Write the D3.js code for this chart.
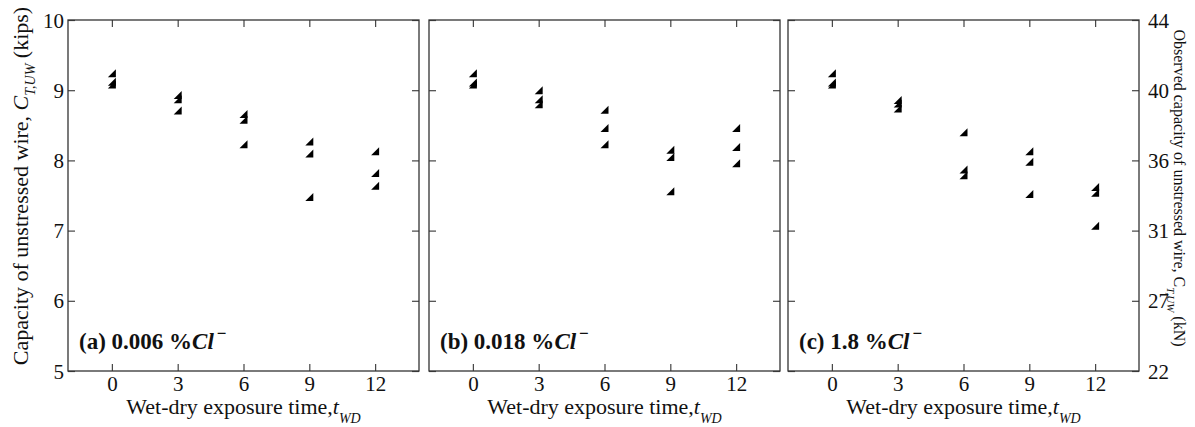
<!DOCTYPE html>
<html><head><meta charset="utf-8">
<script src="https://cdn.jsdelivr.net/npm/d3@7"></script>
</head><body style="margin:0;background:#fff">
<script>
const timeTicks = [0, 3, 6, 9, 12];
const kipsTicks = [5, 6, 7, 8, 9, 10];
const kNLabels = ["22", "27", "31", "36", "40", "44"];
const panelLabels = ["(a) 0.006 %", "(b) 0.018 %", "(c) 1.8 %"];
// capacity (kips) per wet-dry time, each row = samples at timeTicks[i]
const capA = [[9.24, 9.12, 9.08], [8.93, 8.87, 8.71], [8.66, 8.58, 8.23], [8.27, 8.10, 7.48], [8.13, 7.82, 7.64]];
const capB = [[9.24, 9.11, 9.08], [9.00, 8.87, 8.80], [8.72, 8.46, 8.23], [8.15, 8.05, 7.56], [8.46, 8.19, 7.96]];
const capC = [[9.24, 9.11, 9.08], [8.86, 8.81, 8.74], [8.40, 7.87, 7.79], [8.13, 7.98, 7.52], [7.62, 7.54, 7.07]];
const panelData = [capA, capB, capC];

(function () {
const FONT = '"Liberation Serif"';
const W = 1195, H = 427;
const svg = d3.select("body").append("svg").attr("width", W).attr("height", H)
  .style("display", "block").style("font-family", FONT);
const panelLefts = [68, 429, 788];
const panelW = 351;
const yTop = 20, yBot = 371;
const y = d3.scaleLinear().domain([5, 10]).range([yBot, yTop]);
const FS = 21;
const ink = "#111";

function txt(sel) { return sel.style("font-family", FONT).attr("fill", ink); }

panelData.forEach((data, pi) => {
  const x = d3.scaleLinear().domain([-2, 14]).range([panelLefts[pi], panelLefts[pi] + panelW]);
  const g = svg.append("g");
  const tk = 7;
  const axB = d3.axisBottom(x).tickValues(timeTicks).tickSize(-tk).tickFormat(d => d);
  const axT = d3.axisTop(x).tickValues(timeTicks).tickSize(-tk).tickFormat("");
  const axL = d3.axisLeft(y).tickValues(kipsTicks).tickSize(-tk).tickFormat(pi === 0 ? (d => d) : "");
  const axR = d3.axisRight(y).tickValues(kipsTicks).tickSize(-tk).tickFormat(pi === 2 ? ((d, i) => kNLabels[i]) : "");
  const gb = g.append("g").attr("transform", `translate(0,${yBot})`).call(axB);
  const gt = g.append("g").attr("transform", `translate(0,${yTop})`).call(axT);
  const gl = g.append("g").attr("transform", `translate(${x.range()[0]},0)`).call(axL);
  const gr = g.append("g").attr("transform", `translate(${x.range()[1]},0)`).call(axR);
  [gb, gt, gl, gr].forEach(a => {
    a.attr("font-family", null).attr("font-size", null);
    a.select(".domain").remove();
    a.selectAll(".tick line").attr("stroke", "#444").attr("stroke-width", 1.2);
    txt(a.selectAll(".tick text")).style("font-size", FS + "px");
  });
  gb.selectAll(".tick text").attr("y", 20).attr("dy", "0");
  gl.selectAll(".tick text").attr("x", -4).attr("dy", "0.34em");
  gr.selectAll(".tick text").attr("x", 9).attr("dy", "0.34em");

  g.append("rect").attr("x", x.range()[0]).attr("y", yTop).attr("width", panelW).attr("height", yBot - yTop)
    .attr("fill", "none").attr("stroke", "#333").attr("stroke-width", 1.3);

  const pts = [];
  data.forEach((vals, i) => vals.forEach(v => pts.push([timeTicks[i], v])));
  g.selectAll("path.m").data(pts).join("path").attr("class", "m")
    .attr("transform", d => `translate(${x(d[0])},${y(d[1])})`)
    .attr("d", "M-4,4L4,4L4,-4Z").attr("fill", "#000");

  const lab = txt(g.append("text")).attr("x", x.range()[0] + 11).attr("y", 349)
    .style("font-size", "23px").style("font-weight", "bold");
  lab.append("tspan").text(panelLabels[pi]);
  lab.append("tspan").style("font-style", "italic").text("Cl");
  lab.append("tspan").attr("dx", 3).attr("dy", -10).style("font-size", "17px").text("\u2212");

  const cx = (x.range()[0] + x.range()[1]) / 2;
  const xt = txt(g.append("text")).attr("x", cx).attr("y", 414).attr("text-anchor", "middle").style("font-size", "22px");
  xt.append("tspan").text("Wet-dry exposure time,");
  xt.append("tspan").style("font-style", "italic").text("t");
  xt.append("tspan").attr("dy", 9).style("font-style", "italic").style("font-size", "14px").text("WD");
});

const lt = txt(svg.append("text")).attr("transform", "translate(28,186) rotate(-90)").attr("text-anchor", "middle").style("font-size", "22px");
lt.append("tspan").text("Capacity of unstressed wire, ");
lt.append("tspan").style("font-style", "italic").text("C");
lt.append("tspan").attr("dy", 7).style("font-style", "italic").style("font-size", "14px").text("T,UW");
lt.append("tspan").attr("dy", -7).text(" (kips)");

const rt = txt(svg.append("text")).attr("transform", "translate(1174,188) rotate(90)").attr("text-anchor", "middle").style("font-size", "16px");
rt.append("tspan").text("Observed capacity of unstressed wire, C");
rt.append("tspan").attr("dy", 7).style("font-style", "italic").style("font-size", "11px").text("T,UW");
rt.append("tspan").attr("dy", -7).text(" (kN)");
})();
</script>
</body></html>
